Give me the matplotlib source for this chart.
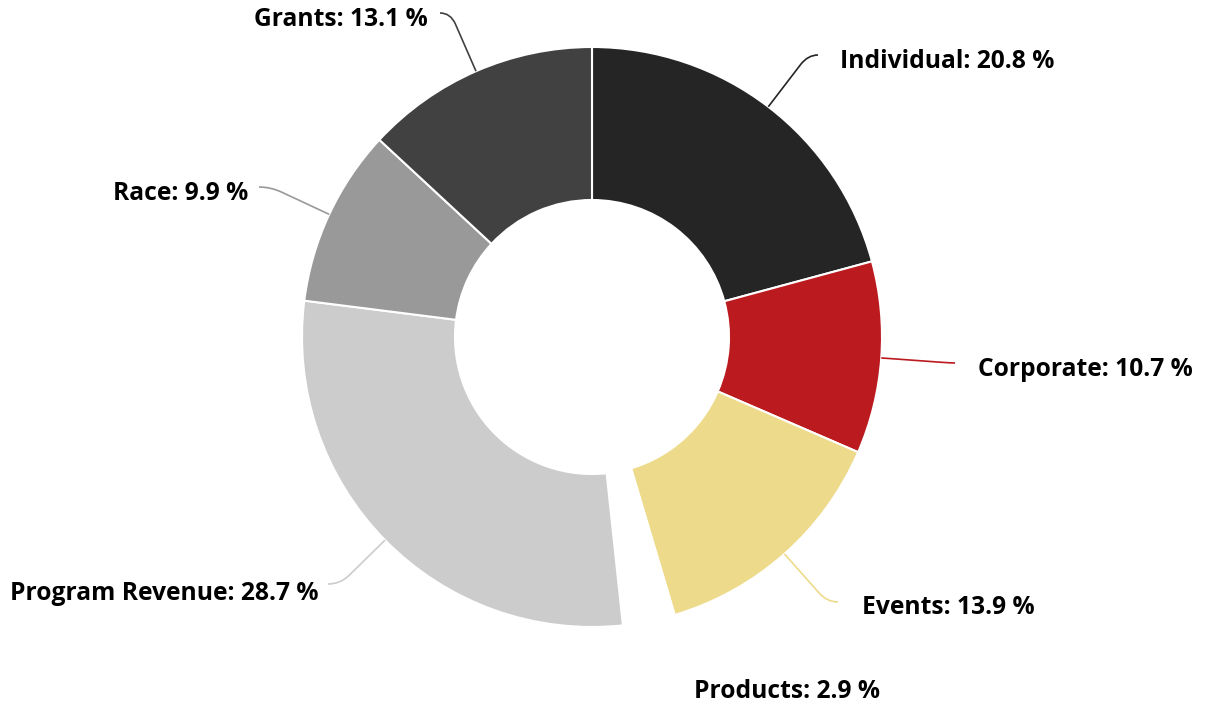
import numpy as np
import matplotlib.pyplot as plt
from matplotlib.path import Path
from matplotlib.patches import PathPatch

labels = ['Individual', 'Corporate', 'Events', 'Products', 'Program Revenue', 'Race', 'Grants']
shares = [20.8, 10.7, 13.9, 2.9, 28.7, 9.9, 13.1]
colors = ['#252525', '#bb1a1f', '#eddb8b', '#ffffff', '#cccccc', '#999999', '#414141']

W, H = 1208, 708
fig = plt.figure(figsize=(W / 100, H / 100), dpi=100)
ax = fig.add_axes([0, 0, 1, 1])
cx, cy, R = 592, H - 337, 290

wedges, _ = ax.pie(shares, colors=colors, startangle=90, counterclock=False,
                   radius=R, center=(cx, cy),
                   wedgeprops=dict(width=153, edgecolor='white', linewidth=1.5))
ax.set_xlim(0, W)
ax.set_ylim(0, H)
ax.set_aspect('equal')
ax.axis('off')

# label layout in image pixels: text x, text y, alignment, connector end x, connector end y
layout = {
    'Individual': (840, 62, 'left', 818, 55),
    'Corporate': (978, 369, 'left', 955, 363),
    'Events': (862, 608, 'left', 838, 602),
    'Products': (694, 692, 'left', None, None),
    'Program Revenue': (318, 594, 'right', 328, 584),
    'Race': (248, 194, 'right', 259, 187),
    'Grants': (428, 20, 'right', 440, 13),
}

for w, lab, val, col in zip(wedges, labels, shares, colors):
    tx, ty, ha, lx, ly = layout[lab]
    ax.text(tx, H - ty, f'{lab}: {val} %', ha=ha, va='center', fontsize=17.7,
            fontweight='bold', family='Open Sans', color='#000000')
    if lx is None:
        continue
    mid = np.deg2rad((w.theta1 + w.theta2) / 2)
    d = np.array([np.cos(mid), np.sin(mid)])
    edge = np.array([cx, cy]) + R * d
    end = np.array([lx, H - ly])
    t = (end[1] - edge[1]) / d[1]
    corner = edge + t * d
    pa = corner - min(12, abs(t)) * d
    verts = [edge, pa, corner, end]
    codes = [Path.MOVETO, Path.LINETO, Path.CURVE3, Path.CURVE3]
    ax.add_patch(PathPatch(Path(verts, codes), fill=False, edgecolor=col, lw=1.2))

fig.savefig('out.png', dpi=100)
